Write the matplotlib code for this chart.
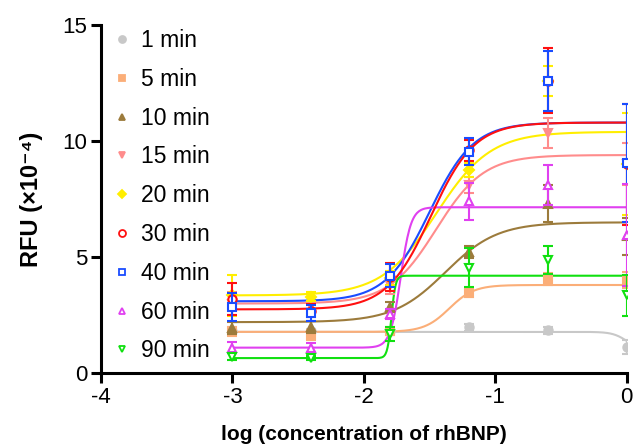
import numpy as np
import matplotlib
matplotlib.use('Agg')
import matplotlib.pyplot as plt
from matplotlib.lines import Line2D

plt.rcParams['font.family'] = ['Liberation Sans', 'DejaVu Sans']
plt.rcParams['axes.unicode_minus'] = False

# log concentration of rhBNP
x = np.array([-3.0, -2.4, -1.8, -1.2, -0.6, 0.0])

labels = ['1 min', '5 min', '10 min', '15 min', '20 min',
          '30 min', '40 min', '60 min', '90 min']
colors = ['#c8c8c8', '#fbae78', '#9c7b3c', '#ff8c8c', '#ffee00',
          '#ff1010', '#1a4cff', '#e040f0', '#10e010']
markers = ['o', 's', '^', 'v', 'D', 'o', 's', '^', 'v']
filled = [True, True, True, True, True, False, False, False, False]

# mean RFU (x10^-4)
y_1 = [1.80, 1.80, 1.80, 1.98, 1.85, 1.12]
y_5 = [1.80, 1.65, 1.80, 3.45, 4.05, 4.00]
y_10 = [1.95, 2.00, 2.85, 5.23, 7.30, 5.90]
y_15 = [3.00, 2.90, 3.80, 8.10, 10.35, 9.00]
y_20 = [3.35, 3.30, 4.10, 8.75, 12.60, 9.00]
y_30 = [3.20, 2.70, 4.15, 9.60, 12.60, 9.00]
y_40 = [2.85, 2.60, 4.20, 9.55, 12.60, 9.05]
y_60 = [1.10, 1.10, 2.55, 7.40, 8.10, 5.95]
y_90 = [0.70, 0.65, 1.70, 4.55, 4.87, 3.35]

# error bars
e_1 = [0.10, 0.10, 0.10, 0.15, 0.15, 0.30]
e_5 = [0.20, 0.20, 0.15, 0.15, 0.25, 0.35]
e_10 = [0.25, 0.25, 0.20, 0.25, 0.80, 0.80]
e_15 = [0.50, 0.40, 0.40, 0.35, 0.65, 0.90]
e_20 = [0.90, 0.20, 0.30, 0.30, 0.65, 2.20]
e_30 = [0.70, 0.30, 0.60, 0.45, 1.40, 2.60]
e_40 = [0.60, 0.35, 0.50, 0.60, 1.30, 2.55]
e_60 = [0.25, 0.20, 0.20, 0.80, 0.85, 2.20]
e_90 = [0.15, 0.10, 0.30, 0.85, 0.60, 0.90]

means = [y_1, y_5, y_10, y_15, y_20, y_30, y_40, y_60, y_90]
errs = [e_1, e_5, e_10, e_15, e_20, e_30, e_40, e_60, e_90]

# 4PL fit parameters: bottom, top, logEC50, hill
fit_bottom = [1.78, 1.78, 2.20, 3.00, 3.35, 2.75, 3.10, 1.10, 0.65]
fit_top = [1.00, 3.80, 6.50, 9.40, 10.40, 10.80, 10.80, 7.15, 4.20]
fit_ec50 = [0.00, -1.35, -1.38, -1.45, -1.45, -1.49, -1.50, -1.72, -1.79]
fit_hill = [8.0, 4.6, 2.2, 2.4, 2.1, 2.6, 2.6, 11.0, 28.0]
# red fit line sits on top of the blue one
curve_z = [2, 3, 4, 5, 6, 12, 8, 9, 10]


def four_pl(xx, bottom, top, ec50, hill):
    return bottom + (top - bottom) / (1 + 10 ** ((ec50 - xx) * hill))


fig = plt.figure(figsize=(6.35, 4.48), dpi=100)
ax = fig.add_axes([0.159, 0.167, 0.828, 0.777])

xf = np.linspace(-3, 0, 400)
handles = []
for i in range(len(labels)):
    c = colors[i]
    fc = c if filled[i] else 'white'
    ax.plot(xf, four_pl(xf, fit_bottom[i], fit_top[i], fit_ec50[i], fit_hill[i]),
            color=c, lw=1.5, zorder=curve_z[i])
    ax.errorbar(x, means[i], yerr=errs[i], fmt='none', ecolor=c,
                elinewidth=1.5, capsize=3.5, capthick=1.5, zorder=14 + i)
    ax.plot(x, means[i], linestyle='none', marker=markers[i],
            markersize=6 if markers[i] != 'D' else 5, markerfacecolor=fc,
            markeredgecolor=c, markeredgewidth=1.5, zorder=15 + i)
    handles.append(Line2D([], [], linestyle='none', marker=markers[i],
                          markersize=5 if markers[i] != 'D' else 4,
                          markerfacecolor=fc, markeredgecolor=c,
                          markeredgewidth=1.3))

ax.set_xlim(-4, 0)
ax.set_ylim(0, 15)
ax.set_xticks([-4, -3, -2, -1, 0])
ax.set_yticks([0, 5, 10, 15])
ax.spines['top'].set_visible(False)
ax.spines['right'].set_visible(False)
for s in ['left', 'bottom']:
    ax.spines[s].set_linewidth(2.2)
ax.tick_params(width=2.2, length=7, labelsize=16, pad=3)

ax.set_xlabel('log (concentration of rhBNP)', fontsize=15, fontweight='bold',
              labelpad=12)
ax.set_ylabel('RFU (×10⁻⁴)', fontsize=17, fontweight='bold', labelpad=14)

ax.legend(handles, labels, loc='upper left', frameon=False, fontsize=16.5,
          bbox_to_anchor=(-0.013, 1.035), handlelength=1.0, handletextpad=0.35,
          labelspacing=0.69, borderaxespad=0.3)

fig.savefig('out.png', dpi=100)
